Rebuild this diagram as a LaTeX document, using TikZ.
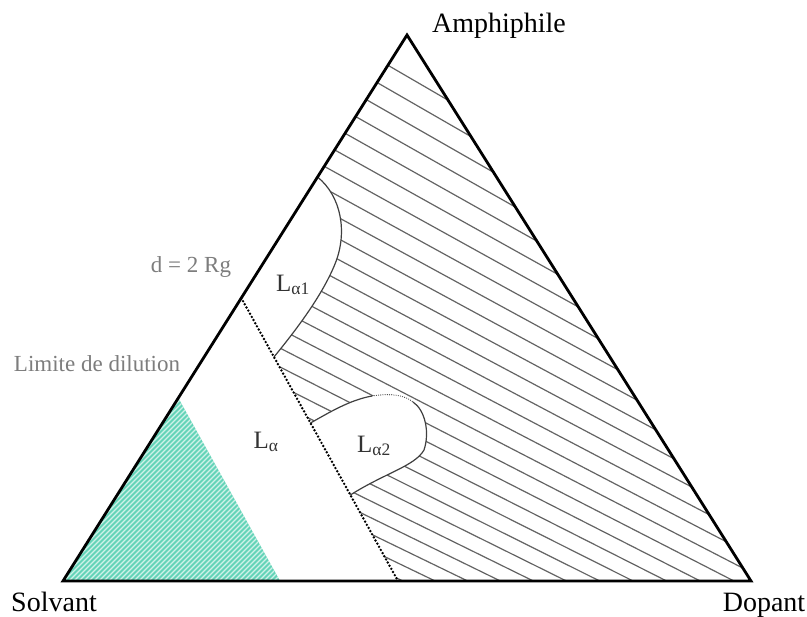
\documentclass[tikz,border=0pt]{standalone}
\usepackage{fontspec}
\setmainfont{Liberation Serif}
\usetikzlibrary{calc}
\definecolor{teal1}{RGB}{100,212,184}
\definecolor{labelgray}{RGB}{125,125,125}
\definecolor{hatchgray}{RGB}{100,100,100}
\tikzset{
 edge/.style={line width=2.8pt, line join=miter},
 tie/.style={hatchgray, line width=1.2pt},
 phase/.style={black!75, line width=1.2pt},
 dotline/.style={line width=2.7pt, line cap=round, dash pattern=on 0pt off 3.6pt},
 lbl/.style={font=\fontsize{28}{30}\selectfont, inner sep=0pt, anchor=base},
 glbl/.style={labelgray, inner sep=0pt},
 phlbl/.style={font=\fontsize{25}{27}\selectfont, inner sep=0pt, black!80},
}
\begin{document}
\begin{tikzpicture}[x=1pt,y=-1pt]
\useasboundingbox (0,0) rectangle (807,617);
\fill[white] (0,0) rectangle (807,617);
\coordinate (A) at (407,35);
\coordinate (S) at (63,581);
\coordinate (D) at (751,581);
\coordinate (d1) at ($(A)!0.4817!(S)$);
\coordinate (d2) at (398,581);
\coordinate (a1) at ($(A)!0.2601!(S)$);
\coordinate (a2) at ($(d1)!0.2085!(d2)$);
\coordinate (b1) at ($(d1)!0.4417!(d2)$);
\coordinate (b2) at ($(d1)!0.6961!(d2)$);
\coordinate (G) at ($(A)!0.6648!(S)$);
\coordinate (g2) at (280,581);
\coordinate (P) at (5383,2966);
% green region
\begin{scope}
\clip (S) -- (G) -- (g2) -- cycle;
\fill[teal1] (0,300) rectangle (300,600);
\foreach \k in {0,...,120} \draw[white, line width=1.1pt, opacity=0.7] ({\k*5-340},600) -- ++(420,-420);
\end{scope}
% tie lines
\begin{scope}
\clip (A) -- (D) -- (d2) -- (b2) .. controls (385,473) and (415,466) .. (424,450) .. controls (430,432) and (425,410) .. (413,402) .. controls (405,395) and (390,393) .. (372,396) .. controls (350,400) and (330,412) .. (b1) -- (a2) .. controls (296,330) and (322,296) .. (335,264) .. controls (348,232) and (341,196) .. (a1) -- cycle;
\foreach \k in {0,...,26} \draw[tie] (0,{-160+25.5*\k-0.17*\k*\k}) -- (P);
\end{scope}
% phase boundaries
\draw[phase] (a1) .. controls (341,196) and (348,232) .. (335,264) .. controls (322,296) and (296,330) .. (a2);
\draw[phase] (b1) .. controls (330,412) and (350,400) .. (372,396);
\draw[phase, dash pattern=on 0pt off 2.2pt, line cap=round] (372,396) .. controls (390,393) and (405,395) .. (413,402);
\draw[phase] (413,402) .. controls (425,410) and (430,432) .. (424,450) .. controls (415,466) and (385,473) .. (b2);
\draw[dotline] (d1) -- (d2);
\draw[edge] (A) -- (D) -- (S) -- cycle;
% labels
\node[lbl] (amph) at (499,33) {Amphiphile};
\node[lbl] (solv) at (54,612) {Solvant};
\node[lbl] (dop) at (764,612) {Dopant};
\node[glbl, font=\fontsize{23}{25}\selectfont] (drg) at (191,267) {d = 2 Rg};
\node[glbl, font=\fontsize{23}{25}\selectfont] (lim) at (97,364) {Limite de dilution};
\node[phlbl] (la1) at (293,285) {L\textsubscript{α1}};
\node[phlbl] (la) at (266,442) {L\textsubscript{α}};
\node[phlbl] (la2) at (374,446) {L\textsubscript{α2}};
\end{tikzpicture}
\end{document}
